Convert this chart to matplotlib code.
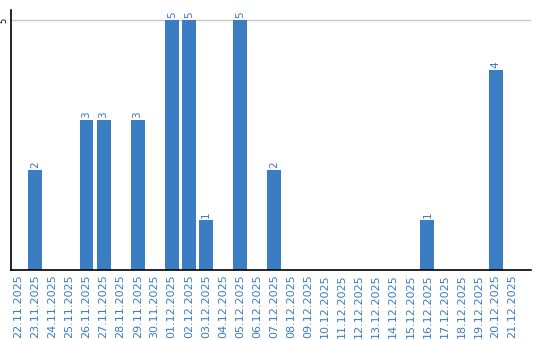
import matplotlib
matplotlib.use('Agg')
import matplotlib.pyplot as plt
import numpy as np

dates = ['22.11.2025', '23.11.2025', '24.11.2025', '25.11.2025', '26.11.2025',
         '27.11.2025', '28.11.2025', '29.11.2025', '30.11.2025', '01.12.2025',
         '02.12.2025', '03.12.2025', '04.12.2025', '05.12.2025', '06.12.2025',
         '07.12.2025', '08.12.2025', '09.12.2025', '10.12.2025', '11.12.2025',
         '12.12.2025', '13.12.2025', '14.12.2025', '15.12.2025', '16.12.2025',
         '17.12.2025', '18.12.2025', '19.12.2025', '20.12.2025', '21.12.2025']
counts = [0, 2, 0, 0, 3, 3, 0, 3, 0, 5, 5, 1, 0, 5, 0,
          2, 0, 0, 0, 0, 0, 0, 0, 0, 1, 0, 0, 0, 4, 0]

bar_color = '#3b7dc3'
text_color = '#3a7bc0'

fig = plt.figure(figsize=(5.4, 3.4), dpi=100)
ax = fig.add_axes([0.021, 0.206, 0.963, 0.764])

x = np.arange(len(dates))
ax.bar(x, counts, width=0.82, color=bar_color, zorder=2)
for xi, c in zip(x, counts):
    if c > 0:
        ax.text(xi, c + 0.04, str(c), rotation=90, ha='center', va='bottom',
                fontsize=7.5, color=text_color)

ax.set_xlim(-0.41, 30.1)
ax.set_ylim(0, 5.2)
ax.set_yticks([5])
ax.set_yticklabels(['5'], rotation=90, va='center', fontsize=6)
ax.yaxis.grid(True, color='#c8c8c8', linewidth=1, zorder=0)
ax.tick_params(axis='y', length=0, pad=2)

ax.set_xticks(x)
ax.set_xticklabels(dates, rotation=90, fontsize=8, color=text_color)
ax.tick_params(axis='x', length=0, pad=3)

ax.spines['top'].set_visible(False)
ax.spines['right'].set_visible(False)
ax.spines['left'].set_linewidth(1.2)
ax.spines['bottom'].set_linewidth(1.2)

fig.savefig('out.png', dpi=100)
